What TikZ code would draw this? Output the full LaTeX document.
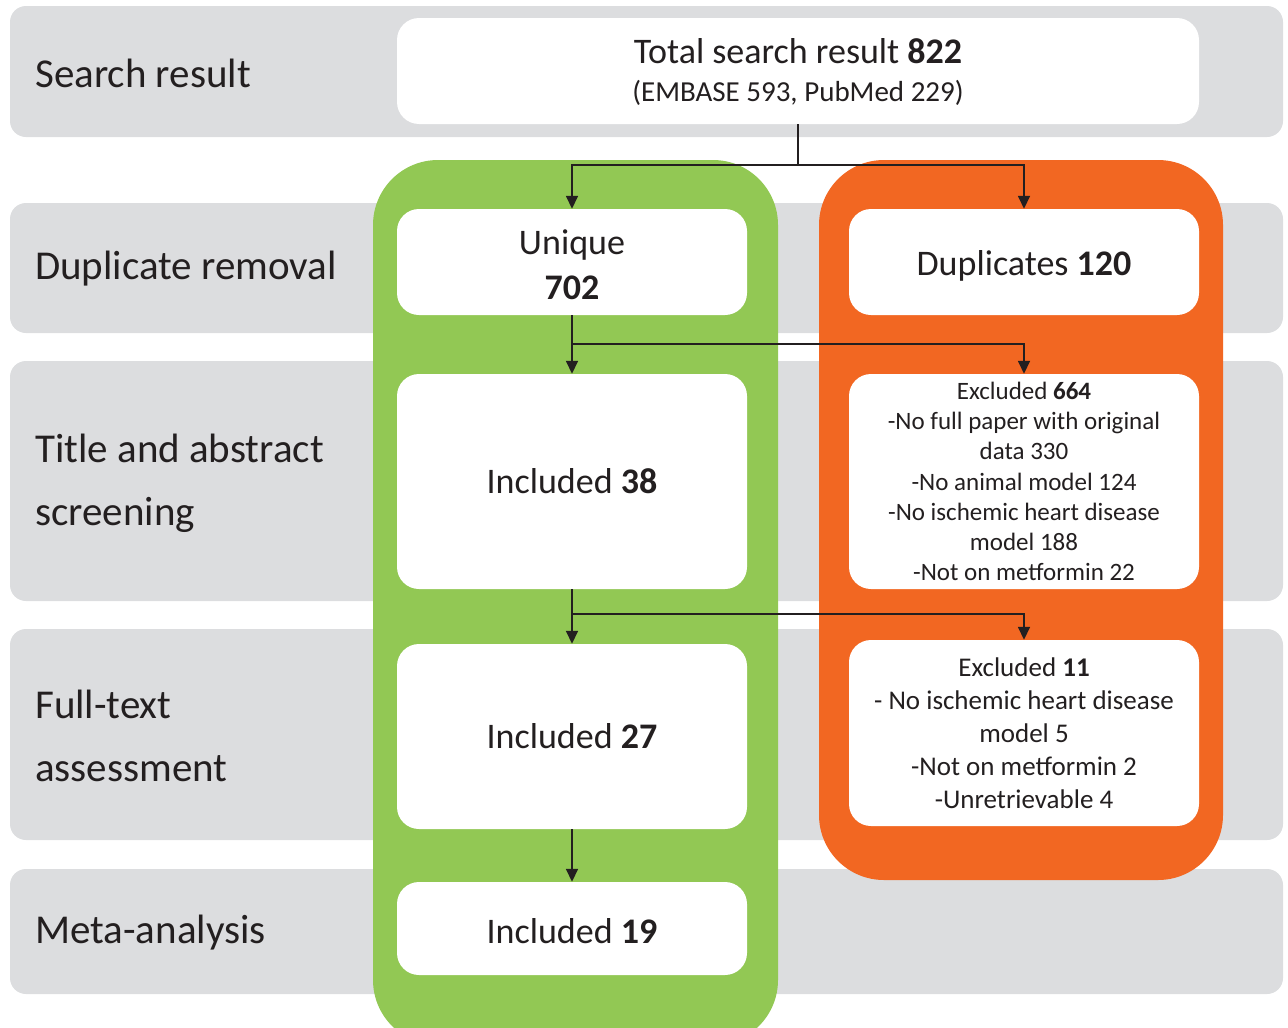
\documentclass[tikz,border=0pt]{standalone}
\usepackage{fontspec}
\setmainfont{Carlito}
\usetikzlibrary{arrows.meta}
\definecolor{bandgray}{HTML}{DCDDDF}
\definecolor{colgreen}{HTML}{92C854}
\definecolor{colorange}{HTML}{F26722}
\definecolor{ink}{HTML}{231F20}
\begin{document}
\begin{tikzpicture}[x=1pt, y=-1pt,
    box/.style={fill=white, rounded corners=22pt, inner sep=0pt, align=center, text=ink, minimum width=350pt},
    rowlabel/.style={anchor=west, align=left, text=ink, inner sep=0pt, yshift=-3pt, font={\fontsize{41}{63}\selectfont}},
    arr/.style={ink, line width=1.6pt, -{Triangle[width=12pt,length=13pt]}}]
    \useasboundingbox (0,0) rectangle (1288,1028);
    % grey stage bands
    \foreach \top/\bot in {6/137, 203/333, 361/601, 629/840, 869/994}
        \fill[bandgray, rounded corners=16pt] (10,\top) rectangle (1283,\bot);
    % included / excluded columns
    \fill[colgreen, rounded corners=65pt] (373,160) rectangle (778,1045);
    \fill[colorange, rounded corners=65pt] (819,160) rectangle (1223,880);
    % stage labels
    \node[rowlabel] (lsearch) at (35,70) {Search result};
    \node[rowlabel] (ldup) at (35,266) {Duplicate removal};
    \node[rowlabel] (lscreen) at (35,480) {Title and abstract\\screening};
    \node[rowlabel] (lfull) at (35,733) {Full-text\\assessment};
    \node[rowlabel] (lmeta) at (35,930) {Meta-analysis};
    % boxes
    \node[box, minimum width=802pt, minimum height=106pt, font={\fontsize{36}{41}\selectfont}] (total) at (798,71)
        {\\[-13pt]Total search result \textbf{822}\\[-3pt]{\fontsize{29}{35}\selectfont(EMBASE 593, PubMed 229)}};
    \node[box, minimum height=106pt, font={\fontsize{36}{45}\selectfont}] (unique) at (572,262) {\rule{0pt}{30pt}Unique\\\textbf{702}};
    \node[box, minimum height=106pt, font={\fontsize{36}{45}\selectfont}] (dup) at (1024,262) {\rule{0pt}{32pt}Duplicates \textbf{120}};
    \node[box, minimum height=215pt, font={\fontsize{36}{45}\selectfont}] (inc38) at (572,481.5) {Included \textbf{38}};
    \node[box, minimum height=215pt, font={\fontsize{25}{30.3}\selectfont}] (exc664) at (1024,481.5)
        {Excluded \textbf{664}\\-No full paper with original\\data 330\\-No animal model 124\\-No ischemic heart disease\\model 188\\-Not on metformin 22};
    \node[box, minimum height=185pt, font={\fontsize{36}{45}\selectfont}] (inc27) at (572,736.5) {Included \textbf{27}};
    \node[box, minimum height=186pt, font={\fontsize{27}{33}\selectfont}] (exc11) at (1024,733)
        {Excluded \textbf{11}\\- No ischemic heart disease\\model 5\\-Not on metformin 2\\-Unretrievable 4};
    \node[box, minimum height=93pt, font={\fontsize{36}{45}\selectfont}] (inc19) at (572,928.5) {\rule{0pt}{30pt}Included \textbf{19}};
    % connectors
    \draw[arr] (total.south) -- ++(0,41) -| (unique.north);
    \draw[arr] (total.south) -- ++(0,41) -| (dup.north);
    \draw[arr] (unique.south) -- (inc38.north);
    \draw[arr] (unique.south) -- ++(0,29) -| (exc664.north);
    \draw[arr] (inc38.south) -- (inc27.north);
    \draw[arr] (inc38.south) -- ++(0,25) -| (exc11.north);
    \draw[arr] (inc27.south) -- (inc19.north);
\end{tikzpicture}
\end{document}
